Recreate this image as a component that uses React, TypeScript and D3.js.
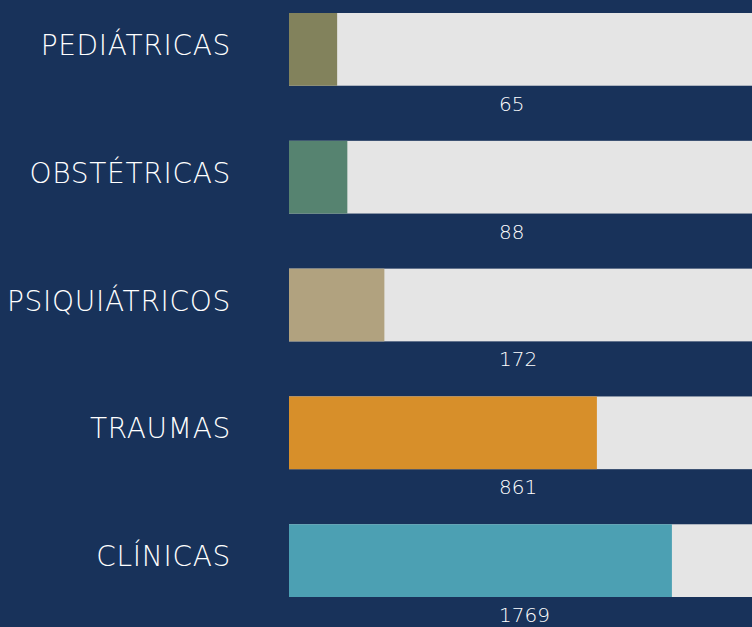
import React from "react";
import * as d3 from "d3";

const categories: string[] = ["PEDIÁTRICAS", "OBSTÉTRICAS", "PSIQUIÁTRICOS", "TRAUMAS", "CLÍNICAS"];
const counts: number[] = [65, 88, 172, 861, 1769];
// share of the track filled by each coloured bar (percent)
const fillShare: number[] = [10.4, 12.6, 20.6, 66.5, 82.7];
const barColors: string[] = ["#82825c", "#568370", "#b1a27f", "#d78f2a", "#4ca0b3"];

const W = 752;
const H = 627;
const BG = "#18325a";
const TRACK = "#e5e5e5";
const FONT = "'DejaVu Sans', sans-serif";

export default function App() {
  const x = d3.scaleLinear().domain([0, 100]).range([289, W]);
  const y = d3
    .scaleBand<string>()
    .domain(categories)
    .range([13, 597])
    .paddingInner(0.431)
    .paddingOuter(0);
  const bh = y.bandwidth();

  return (
    <svg
      width={W}
      height={H}
      style={{ position: "absolute", left: 0, top: 0, display: "block" }}
    >
      <rect x={0} y={0} width={W} height={H} fill={BG} />
      {categories.map((c, i) => {
        const top = y(c) as number;
        return (
          <g key={c}>
            <rect x={x(0)} y={top} width={x(100) - x(0)} height={bh} fill={TRACK} />
            <rect x={x(0)} y={top} width={x(fillShare[i]) - x(0)} height={bh} fill={barColors[i]} />
            <text
              x={231}
              y={top + bh / 2 - 4}
              textAnchor="end"
              dominantBaseline="central"
              fill="#ffffff"
              fontFamily={FONT}
              fontWeight={200}
              fontSize={28}
              letterSpacing={0.7}
            >
              {c}
            </text>
            <text
              x={499}
              y={top + bh + 18}
              textAnchor="start"
              dominantBaseline="central"
              fill="#ffffff"
              fontFamily={FONT}
              fontWeight={200}
              fontSize={20}
            >
              {counts[i]}
            </text>
          </g>
        );
      })}
    </svg>
  );
}
